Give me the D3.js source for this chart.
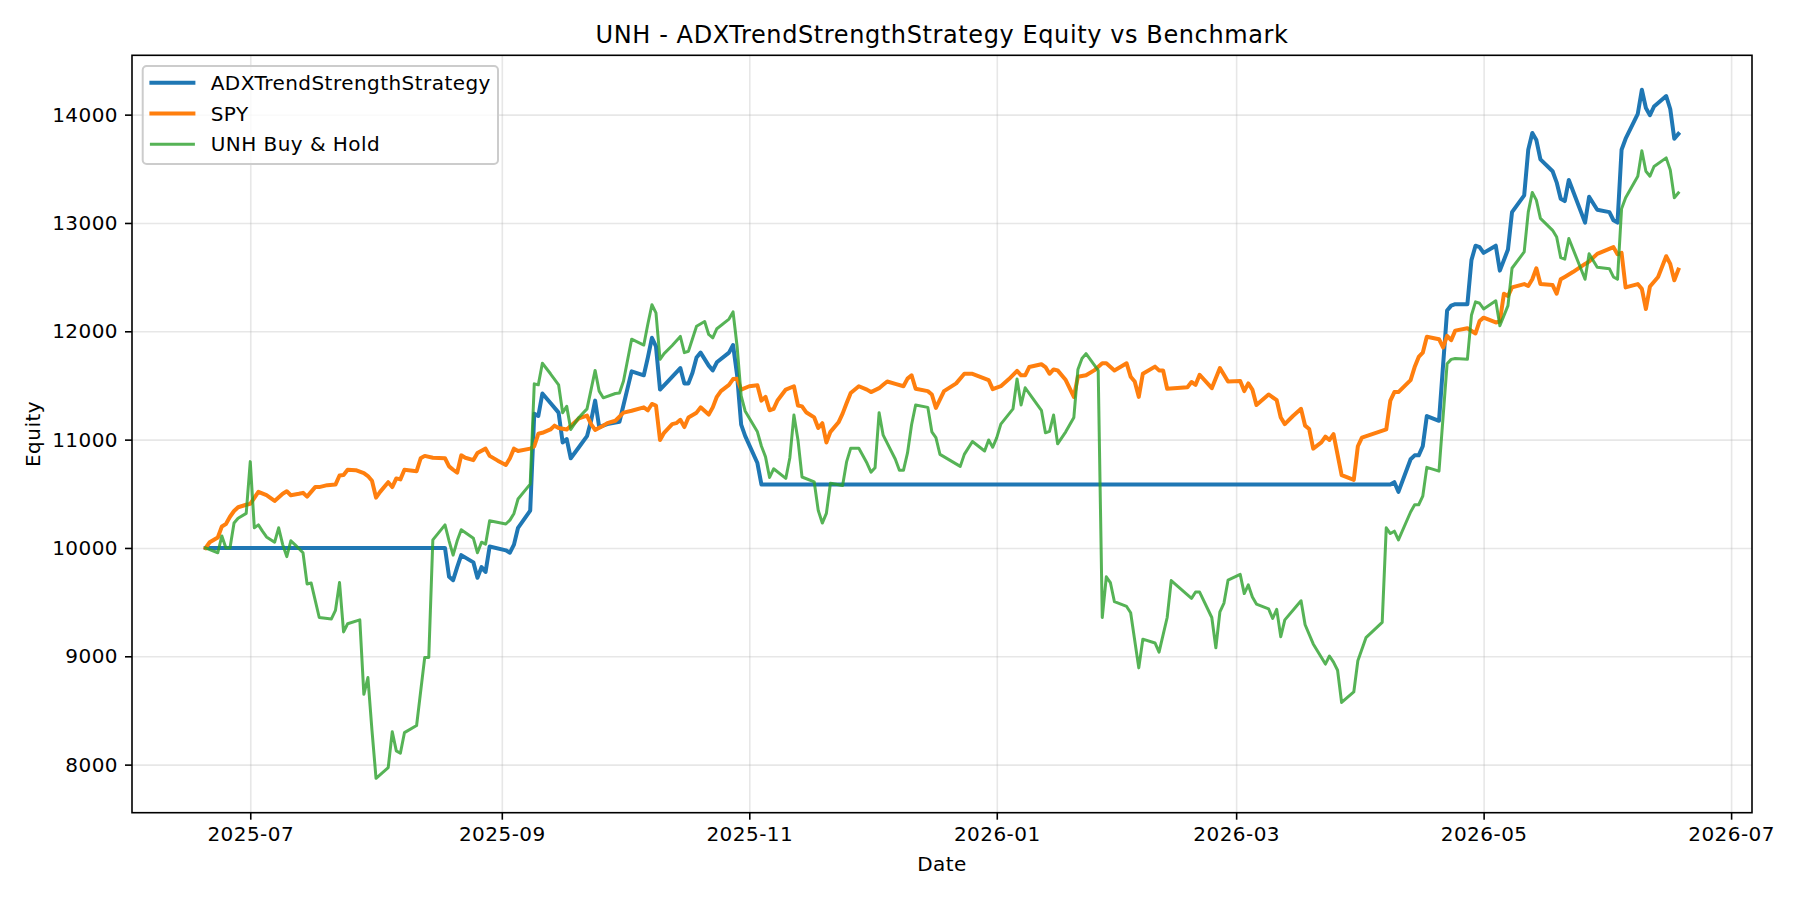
<!DOCTYPE html>
<html>
<head>
<meta charset="utf-8">
<script src="https://cdn.jsdelivr.net/npm/d3@7"></script>
<style>
    body {
        margin: 0;
        background: white;
    }
    text {
        font-family: "DejaVu Sans", sans-serif;
        letter-spacing: 0.45px;
    }
</style>
</head>
<body>
<div class="container"></div>
<script>
// ADX strategy equity (blue)
let strategyDates = ["2025-06-20", "2025-08-18", "2025-08-19", "2025-08-20", "2025-08-21", "2025-08-22", "2025-08-25", "2025-08-26", "2025-08-27", "2025-08-28", "2025-08-29", "2025-09-02", "2025-09-03", "2025-09-04", "2025-09-05", "2025-09-08", "2025-09-09", "2025-09-10", "2025-09-11", "2025-09-13", "2025-09-15", "2025-09-16", "2025-09-17", "2025-09-18", "2025-09-20", "2025-09-22", "2025-09-23", "2025-09-24", "2025-09-25", "2025-09-27", "2025-09-30", "2025-10-01", "2025-10-03", "2025-10-06", "2025-10-07", "2025-10-08", "2025-10-09", "2025-10-10", "2025-10-12", "2025-10-15", "2025-10-16", "2025-10-17", "2025-10-18", "2025-10-19", "2025-10-20", "2025-10-22", "2025-10-23", "2025-10-24", "2025-10-27", "2025-10-28", "2025-10-29", "2025-10-30", "2025-10-31", "2025-11-03", "2025-11-04", "2026-04-08", "2026-04-09", "2026-04-10", "2026-04-13", "2026-04-14", "2026-04-15", "2026-04-16", "2026-04-17", "2026-04-20", "2026-04-22", "2026-04-23", "2026-04-24", "2026-04-27", "2026-04-28", "2026-04-29", "2026-04-30", "2026-05-01", "2026-05-04", "2026-05-05", "2026-05-07", "2026-05-08", "2026-05-11", "2026-05-12", "2026-05-13", "2026-05-14", "2026-05-15", "2026-05-18", "2026-05-19", "2026-05-20", "2026-05-21", "2026-05-22", "2026-05-26", "2026-05-27", "2026-05-29", "2026-06-01", "2026-06-02", "2026-06-03", "2026-06-04", "2026-06-05", "2026-06-08", "2026-06-09", "2026-06-10", "2026-06-11", "2026-06-12", "2026-06-15", "2026-06-16", "2026-06-17", "2026-06-18"];
let strategyValues = [10000, 10000, 9734, 9703, 9823, 9934, 9867, 9725, 9823, 9779, 10013, 9978, 9956, 10031, 10186, 10345, 11240, 11218, 11426, 11338, 11249, 10974, 11005, 10828, 10930, 11032, 11174, 11360, 11116, 11143, 11165, 11320, 11630, 11594, 11758, 11940, 11860, 11462, 11541, 11661, 11519, 11519, 11617, 11758, 11803, 11683, 11639, 11714, 11803, 11873, 11594, 11138, 11032, 10784, 10585, 10585, 10607, 10518, 10819, 10855, 10855, 10939, 11218, 11174, 12192, 12237, 12250, 12250, 12657, 12790, 12777, 12724, 12790, 12560, 12755, 13100, 13255, 13676, 13831, 13765, 13587, 13477, 13375, 13224, 13202, 13397, 13003, 13242, 13122, 13100, 13025, 13003, 13676, 13778, 14008, 14230, 14061, 13995, 14075, 14172, 14052, 13778, 13822];

// SPY benchmark (orange)
let spyDates = ["2025-06-20", "2025-06-21", "2025-06-23", "2025-06-24", "2025-06-25", "2025-06-26", "2025-06-27", "2025-06-28", "2025-06-30", "2025-07-01", "2025-07-03", "2025-07-05", "2025-07-07", "2025-07-09", "2025-07-10", "2025-07-11", "2025-07-13", "2025-07-14", "2025-07-15", "2025-07-17", "2025-07-18", "2025-07-20", "2025-07-22", "2025-07-23", "2025-07-24", "2025-07-25", "2025-07-27", "2025-07-29", "2025-07-30", "2025-07-31", "2025-08-01", "2025-08-02", "2025-08-04", "2025-08-05", "2025-08-06", "2025-08-07", "2025-08-08", "2025-08-11", "2025-08-12", "2025-08-13", "2025-08-15", "2025-08-18", "2025-08-19", "2025-08-20", "2025-08-21", "2025-08-22", "2025-08-23", "2025-08-25", "2025-08-26", "2025-08-28", "2025-08-29", "2025-08-31", "2025-09-02", "2025-09-03", "2025-09-04", "2025-09-05", "2025-09-08", "2025-09-09", "2025-09-10", "2025-09-11", "2025-09-13", "2025-09-14", "2025-09-15", "2025-09-17", "2025-09-19", "2025-09-20", "2025-09-22", "2025-09-23", "2025-09-24", "2025-09-26", "2025-09-27", "2025-09-29", "2025-10-01", "2025-10-03", "2025-10-06", "2025-10-07", "2025-10-08", "2025-10-09", "2025-10-10", "2025-10-11", "2025-10-13", "2025-10-14", "2025-10-15", "2025-10-16", "2025-10-17", "2025-10-19", "2025-10-20", "2025-10-22", "2025-10-23", "2025-10-24", "2025-10-25", "2025-10-27", "2025-10-28", "2025-10-29", "2025-10-30", "2025-11-01", "2025-11-03", "2025-11-04", "2025-11-05", "2025-11-06", "2025-11-07", "2025-11-08", "2025-11-10", "2025-11-12", "2025-11-13", "2025-11-14", "2025-11-15", "2025-11-17", "2025-11-18", "2025-11-19", "2025-11-20", "2025-11-21", "2025-11-23", "2025-11-24", "2025-11-25", "2025-11-26", "2025-11-28", "2025-11-30", "2025-12-01", "2025-12-03", "2025-12-04", "2025-12-05", "2025-12-07", "2025-12-09", "2025-12-10", "2025-12-11", "2025-12-12", "2025-12-15", "2025-12-16", "2025-12-17", "2025-12-19", "2025-12-22", "2025-12-24", "2025-12-26", "2025-12-30", "2025-12-31", "2026-01-02", "2026-01-04", "2026-01-06", "2026-01-07", "2026-01-08", "2026-01-09", "2026-01-12", "2026-01-13", "2026-01-14", "2026-01-15", "2026-01-16", "2026-01-18", "2026-01-20", "2026-01-21", "2026-01-23", "2026-01-25", "2026-01-27", "2026-01-28", "2026-01-30", "2026-02-02", "2026-02-03", "2026-02-04", "2026-02-05", "2026-02-06", "2026-02-09", "2026-02-10", "2026-02-11", "2026-02-12", "2026-02-17", "2026-02-18", "2026-02-19", "2026-02-20", "2026-02-23", "2026-02-25", "2026-02-27", "2026-03-02", "2026-03-03", "2026-03-04", "2026-03-05", "2026-03-06", "2026-03-09", "2026-03-11", "2026-03-12", "2026-03-13", "2026-03-15", "2026-03-17", "2026-03-18", "2026-03-19", "2026-03-20", "2026-03-22", "2026-03-23", "2026-03-24", "2026-03-25", "2026-03-27", "2026-03-30", "2026-03-31", "2026-04-01", "2026-04-07", "2026-04-08", "2026-04-09", "2026-04-10", "2026-04-13", "2026-04-14", "2026-04-15", "2026-04-16", "2026-04-17", "2026-04-20", "2026-04-21", "2026-04-22", "2026-04-23", "2026-04-24", "2026-04-27", "2026-04-29", "2026-04-30", "2026-05-01", "2026-05-04", "2026-05-05", "2026-05-06", "2026-05-07", "2026-05-08", "2026-05-11", "2026-05-12", "2026-05-13", "2026-05-14", "2026-05-15", "2026-05-18", "2026-05-19", "2026-05-20", "2026-05-21", "2026-05-23", "2026-05-26", "2026-05-27", "2026-05-29", "2026-06-02", "2026-06-03", "2026-06-04", "2026-06-05", "2026-06-08", "2026-06-09", "2026-06-10", "2026-06-11", "2026-06-13", "2026-06-15", "2026-06-16", "2026-06-17", "2026-06-18"];
let spyValues = [10000, 10053, 10097, 10199, 10221, 10288, 10341, 10376, 10399, 10407, 10518, 10487, 10434, 10500, 10523, 10487, 10500, 10509, 10474, 10562, 10562, 10580, 10585, 10669, 10673, 10722, 10718, 10691, 10664, 10620, 10465, 10518, 10607, 10562, 10642, 10633, 10722, 10709, 10828, 10850, 10833, 10828, 10753, 10722, 10695, 10855, 10833, 10811, 10877, 10917, 10850, 10806, 10766, 10828, 10917, 10895, 10917, 10939, 11054, 11063, 11094, 11129, 11107, 11094, 11160, 11196, 11222, 11143, 11090, 11129, 11152, 11174, 11249, 11267, 11298, 11271, 11329, 11315, 10997, 11063, 11143, 11152, 11183, 11116, 11205, 11249, 11298, 11231, 11298, 11395, 11448, 11506, 11559, 11563, 11462, 11493, 11501, 11360, 11395, 11271, 11284, 11364, 11462, 11493, 11315, 11307, 11253, 11205, 11107, 11152, 10974, 11072, 11160, 11240, 11338, 11431, 11493, 11462, 11439, 11475, 11506, 11537, 11515, 11493, 11563, 11594, 11470, 11448, 11417, 11293, 11448, 11519, 11608, 11608, 11550, 11466, 11493, 11559, 11634, 11594, 11594, 11670, 11696, 11670, 11608, 11648, 11639, 11550, 11395, 11581, 11594, 11639, 11705, 11705, 11639, 11705, 11581, 11537, 11395, 11608, 11674, 11639, 11639, 11470, 11484, 11532, 11506, 11599, 11475, 11661, 11537, 11541, 11448, 11519, 11462, 11320, 11417, 11364, 11205, 11143, 11218, 11284, 11129, 11098, 10917, 10974, 11028, 10997, 11050, 10673, 10629, 10939, 11019, 11094, 11360, 11439, 11439, 11550, 11670, 11763, 11803, 11949, 11927, 11851, 11958, 11918, 12006, 12028, 11980, 12095, 12126, 12082, 12090, 12347, 12325, 12405, 12436, 12418, 12480, 12582, 12436, 12427, 12347, 12480, 12502, 12547, 12622, 12644, 12715, 12777, 12711, 12724, 12405, 12436, 12392, 12206, 12414, 12502, 12693, 12622, 12471, 12569];

// UNH buy & hold (green)
let unhDates = ["2025-06-20", "2025-06-23", "2025-06-24", "2025-06-25", "2025-06-26", "2025-06-27", "2025-06-28", "2025-06-30", "2025-07-01", "2025-07-02", "2025-07-03", "2025-07-04", "2025-07-05", "2025-07-07", "2025-07-08", "2025-07-09", "2025-07-10", "2025-07-11", "2025-07-12", "2025-07-14", "2025-07-15", "2025-07-16", "2025-07-18", "2025-07-21", "2025-07-22", "2025-07-23", "2025-07-24", "2025-07-25", "2025-07-28", "2025-07-29", "2025-07-30", "2025-07-31", "2025-08-01", "2025-08-04", "2025-08-05", "2025-08-06", "2025-08-07", "2025-08-08", "2025-08-11", "2025-08-13", "2025-08-14", "2025-08-15", "2025-08-18", "2025-08-19", "2025-08-20", "2025-08-21", "2025-08-22", "2025-08-25", "2025-08-26", "2025-08-27", "2025-08-28", "2025-08-29", "2025-09-02", "2025-09-03", "2025-09-04", "2025-09-05", "2025-09-08", "2025-09-09", "2025-09-10", "2025-09-11", "2025-09-13", "2025-09-15", "2025-09-16", "2025-09-17", "2025-09-18", "2025-09-20", "2025-09-22", "2025-09-23", "2025-09-24", "2025-09-25", "2025-09-26", "2025-09-29", "2025-09-30", "2025-10-01", "2025-10-03", "2025-10-06", "2025-10-07", "2025-10-08", "2025-10-09", "2025-10-10", "2025-10-11", "2025-10-13", "2025-10-15", "2025-10-16", "2025-10-17", "2025-10-19", "2025-10-21", "2025-10-22", "2025-10-23", "2025-10-24", "2025-10-27", "2025-10-28", "2025-10-29", "2025-10-30", "2025-10-31", "2025-11-03", "2025-11-04", "2025-11-05", "2025-11-06", "2025-11-07", "2025-11-10", "2025-11-11", "2025-11-12", "2025-11-13", "2025-11-14", "2025-11-17", "2025-11-18", "2025-11-19", "2025-11-20", "2025-11-21", "2025-11-24", "2025-11-25", "2025-11-26", "2025-11-28", "2025-11-30", "2025-12-01", "2025-12-02", "2025-12-03", "2025-12-04", "2025-12-07", "2025-12-08", "2025-12-09", "2025-12-10", "2025-12-11", "2025-12-12", "2025-12-15", "2025-12-16", "2025-12-17", "2025-12-18", "2025-12-23", "2025-12-24", "2025-12-26", "2025-12-29", "2025-12-30", "2025-12-31", "2026-01-01", "2026-01-02", "2026-01-05", "2026-01-06", "2026-01-07", "2026-01-08", "2026-01-10", "2026-01-12", "2026-01-13", "2026-01-14", "2026-01-15", "2026-01-16", "2026-01-18", "2026-01-20", "2026-01-21", "2026-01-22", "2026-01-23", "2026-01-26", "2026-01-27", "2026-01-28", "2026-01-29", "2026-01-30", "2026-02-02", "2026-02-03", "2026-02-05", "2026-02-06", "2026-02-09", "2026-02-10", "2026-02-12", "2026-02-13", "2026-02-18", "2026-02-19", "2026-02-20", "2026-02-23", "2026-02-24", "2026-02-25", "2026-02-26", "2026-02-27", "2026-03-02", "2026-03-03", "2026-03-04", "2026-03-05", "2026-03-06", "2026-03-09", "2026-03-10", "2026-03-11", "2026-03-12", "2026-03-13", "2026-03-16", "2026-03-17", "2026-03-18", "2026-03-20", "2026-03-23", "2026-03-24", "2026-03-25", "2026-03-26", "2026-03-27", "2026-03-30", "2026-03-31", "2026-04-02", "2026-04-06", "2026-04-07", "2026-04-08", "2026-04-09", "2026-04-10", "2026-04-13", "2026-04-14", "2026-04-15", "2026-04-16", "2026-04-17", "2026-04-20", "2026-04-22", "2026-04-23", "2026-04-24", "2026-04-27", "2026-04-28", "2026-04-29", "2026-04-30", "2026-05-01", "2026-05-04", "2026-05-05", "2026-05-07", "2026-05-08", "2026-05-11", "2026-05-12", "2026-05-13", "2026-05-14", "2026-05-15", "2026-05-18", "2026-05-19", "2026-05-20", "2026-05-21", "2026-05-22", "2026-05-26", "2026-05-27", "2026-05-29", "2026-06-01", "2026-06-02", "2026-06-03", "2026-06-04", "2026-06-05", "2026-06-08", "2026-06-09", "2026-06-10", "2026-06-11", "2026-06-12", "2026-06-15", "2026-06-16", "2026-06-17", "2026-06-18"];
let unhValues = [10000, 9956, 10111, 10000, 10000, 10230, 10275, 10319, 10797, 10186, 10213, 10155, 10102, 10053, 10186, 10031, 9920, 10066, 10031, 9956, 9668, 9677, 9358, 9345, 9424, 9681, 9225, 9300, 9336, 8649, 8804, 8317, 7874, 7972, 8304, 8127, 8105, 8295, 8361, 8990, 8990, 10075, 10213, 10066, 9934, 10066, 10168, 10089, 9956, 10053, 10035, 10252, 10221, 10257, 10319, 10452, 10589, 11515, 11506, 11705, 11608, 11506, 11249, 11307, 11094, 11205, 11284, 11462, 11639, 11448, 11386, 11426, 11431, 11541, 11927, 11873, 12068, 12245, 12170, 11741, 11794, 11869, 11953, 11803, 11816, 12046, 12090, 11971, 11940, 12024, 12113, 12179, 11860, 11404, 11262, 11072, 10939, 10841, 10651, 10731, 10642, 10833, 11227, 10997, 10655, 10611, 10345, 10230, 10319, 10598, 10576, 10797, 10921, 10921, 10784, 10700, 10740, 11249, 11041, 10819, 10717, 10717, 10877, 11138, 11320, 11298, 11072, 11019, 10864, 10753, 10864, 10983, 10895, 10997, 10930, 11019, 11143, 11284, 11559, 11320, 11479, 11373, 11271, 11063, 11076, 11227, 10961, 11072, 11205, 11648, 11749, 11794, 11639, 9358, 9734, 9681, 9504, 9460, 9402, 8893, 9158, 9123, 9039, 9358, 9699, 9535, 9593, 9593, 9358, 9079, 9411, 9491, 9703, 9756, 9579, 9659, 9548, 9482, 9438, 9349, 9433, 9181, 9336, 9469, 9513, 9291, 9114, 8928, 9003, 8946, 8871, 8574, 8671, 8959, 9172, 9313, 10186, 10133, 10155, 10075, 10332, 10399, 10399, 10478, 10744, 10709, 11701, 11741, 11749, 11741, 12148, 12272, 12259, 12206, 12281, 12051, 12237, 12582, 12733, 13100, 13282, 13211, 13043, 12932, 12870, 12680, 12666, 12857, 12480, 12715, 12591, 12578, 12502, 12480, 13131, 13233, 13432, 13667, 13477, 13432, 13521, 13601, 13490, 13233, 13277];

let seriesNames = ["ADXTrendStrengthStrategy", "SPY", "UNH Buy & Hold"];
let seriesColors = ["#1f77b4", "#ff7f0e", "#2ca02c"];
let seriesWidths = [4, 4, 3];
let seriesOpacity = [1, 1, 0.8];
let yTicks = [8000, 9000, 10000, 11000, 12000, 13000, 14000];

let margin = {
    top: 55.3,
    right: 48,
    bottom: 87.3,
    left: 132
};
let width = 1800 - margin.left - margin.right;
let height = 900 - margin.top - margin.bottom;

let parseDate = d3.timeParse("%Y-%m-%d");

const toPoints = (dates, values) => {
    return dates.map(function (d, i) {
        return { date: parseDate(d), value: values[i] };
    });
};

let series = [
    toPoints(strategyDates, strategyValues),
    toPoints(spyDates, spyValues),
    toPoints(unhDates, unhValues)
];

let svg = d3.select(".container")
    .append("svg")
    .attr("width", width + margin.left + margin.right)
    .attr("height", height + margin.top + margin.bottom)
    .style("display", "block")
    .append("g")
    .attr("transform", "translate(" + margin.left + "," + margin.top + ")");

// matplotlib style 5% padding around the data
let allPoints = series.flat();
let xExt = d3.extent(allPoints, function (d) { return d.date; });
let xPad = (xExt[1] - xExt[0]) * 0.05;
let x = d3.scaleTime()
    .domain([new Date(+xExt[0] - xPad), new Date(+xExt[1] + xPad)])
    .range([0, width]);

let yExt = d3.extent(allPoints, function (d) { return d.value; });
let yPad = (yExt[1] - yExt[0]) * 0.05;
let y = d3.scaleLinear()
    .domain([yExt[0] - yPad, yExt[1] + yPad])
    .range([height, 0]);

// grid
svg.append("g")
    .attr("class", "grid")
    .attr("transform", "translate(0," + height + ")")
    .call(d3.axisBottom(x).ticks(d3.timeMonth.every(2)).tickSize(-height).tickFormat(""));
svg.append("g")
    .attr("class", "grid")
    .call(d3.axisLeft(y).tickValues(yTicks).tickSize(-width).tickFormat(""));
svg.selectAll(".grid .domain").remove();
svg.selectAll(".grid line")
    .attr("stroke", "#b0b0b0")
    .attr("stroke-opacity", 0.3)
    .attr("stroke-width", 1.6);

// lines
let line = d3.line()
    .x(function (d) { return x(d.date); })
    .y(function (d) { return y(d.value); });

svg.append("g")
    .selectAll("path")
    .data(series)
    .enter()
    .append("path")
    .attr("class", "equity")
    .attr("d", line)
    .attr("fill", "none")
    .attr("stroke", function (d, i) { return seriesColors[i]; })
    .attr("stroke-width", function (d, i) { return seriesWidths[i]; })
    .attr("stroke-opacity", function (d, i) { return seriesOpacity[i]; })
    .attr("stroke-linejoin", "round")
    .attr("stroke-linecap", "square");

// axes
let xAxis = svg.append("g")
    .attr("class", "axis")
    .attr("transform", "translate(0," + height + ")")
    .call(d3.axisBottom(x)
        .ticks(d3.timeMonth.every(2))
        .tickFormat(d3.timeFormat("%Y-%m"))
        .tickSize(7)
        .tickPadding(7)
        .tickSizeOuter(0));

let yAxis = svg.append("g")
    .attr("class", "axis")
    .call(d3.axisLeft(y)
        .tickValues(yTicks)
        .tickFormat(d3.format("d"))
        .tickSize(7)
        .tickPadding(7)
        .tickSizeOuter(0));

svg.selectAll(".axis .domain").remove();
svg.selectAll(".axis line")
    .attr("stroke", "#000")
    .attr("stroke-width", 1.6);
svg.selectAll(".axis text")
    .attr("fill", "#000")
    .style("font-family", "'DejaVu Sans'")
    .style("font-size", "20px");

// frame
svg.append("rect")
    .attr("width", width)
    .attr("height", height)
    .attr("fill", "none")
    .attr("stroke", "#000")
    .attr("stroke-width", 1.6);

// labels
svg.append("text")
    .attr("x", width / 2)
    .attr("y", -12)
    .attr("text-anchor", "middle")
    .style("font-size", "24px")
    .style("letter-spacing", "0.6px")
    .text("UNH - ADXTrendStrengthStrategy Equity vs Benchmark");

svg.append("text")
    .attr("x", width / 2)
    .attr("y", height + 58)
    .attr("text-anchor", "middle")
    .style("font-size", "20px")
    .text("Date");

svg.append("text")
    .attr("transform", "translate(" + (39.5 - margin.left) + "," + (height / 2) + ") rotate(-90)")
    .attr("text-anchor", "middle")
    .style("font-size", "20px")
    .text("Equity");

// legend
let legend = svg.append("g")
    .attr("class", "legend")
    .attr("transform", "translate(10.7,10.7)");

legend.append("rect")
    .attr("width", 355.3)
    .attr("height", 98)
    .attr("rx", 4)
    .attr("fill", "white")
    .attr("fill-opacity", 0.8)
    .attr("stroke", "#cccccc")
    .attr("stroke-width", 2);

let rows = legend.selectAll(".row")
    .data(seriesNames)
    .enter()
    .append("g")
    .attr("class", "row")
    .attr("transform", function (d, i) {
        return "translate(0," + (16.7 + i * 30.8) + ")";
    });

rows.append("line")
    .attr("x1", 8.7)
    .attr("x2", 50.7)
    .attr("stroke", function (d, i) { return seriesColors[i]; })
    .attr("stroke-width", function (d, i) { return seriesWidths[i]; })
    .attr("stroke-opacity", function (d, i) { return seriesOpacity[i]; })
    .attr("stroke-linecap", "square");

rows.append("text")
    .attr("x", 68)
    .attr("y", 7)
    .style("font-size", "20px")
    .text(function (d) { return d; });
</script>
</body>
</html>
